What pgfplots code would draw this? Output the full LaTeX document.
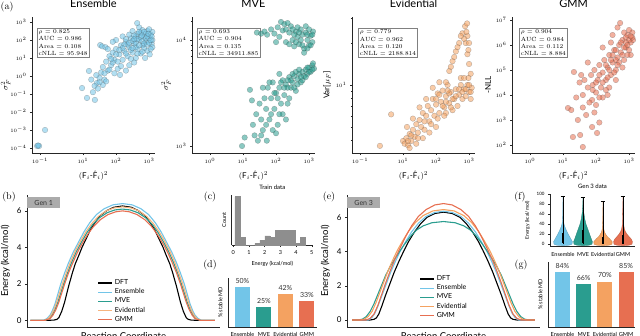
\documentclass[border=0pt]{standalone}
\usepackage{pgfplots}
\pgfplotsset{compat=1.18}
\usepackage{fontspec}
\setsansfont{Lato}
\usetikzlibrary{shadows}

\definecolor{cEns}{HTML}{72C5E8}
\definecolor{cMVE}{HTML}{2A9D8F}
\definecolor{cEvi}{HTML}{F4A261}
\definecolor{cEviL}{HTML}{F6B47E}
\definecolor{cGMM}{HTML}{E76F51}
\definecolor{hist}{HTML}{8E8E8E}
\definecolor{genbox}{HTML}{ABABAB}

\newcommand{\sz}[2]{\fontsize{#1}{#2}\selectfont}

\pgfplotsset{
  base/.style={scale only axis, anchor=south west, clip=false,
    axis x line*=bottom, axis y line*=left,
    axis line style={line width=0.6pt, black!85},
    tick align=outside, major tick length=2pt, minor tick length=1.2pt,
    every tick/.style={line width=0.4pt, black!85},
    tick label style={font=\sz{4.6}{5}},
    label style={font=\sffamily\sz{8}{9}}},
  top/.style={base, width=123pt, height=136pt, xmin=-0.545, xmax=3.18,
    title style={font=\sffamily\sz{11}{12}, at={(0.5,1)}, anchor=south, yshift=0pt},
    xlabel={$(\mathsf{F}_i\mbox{-}\hat{\mathsf{F}}_i)^2$},
    ylabel style={yshift=-2pt}},
  dots/.style={only marks, mark=*, mark size=2.8pt,
    mark options={fill=#1, fill opacity=0.55, draw=black!75, draw opacity=0.4, line width=0.3pt}},
  energy/.style={base, width=193pt, height=132pt, xmin=0, xmax=1,
    xtick=\empty, ytick={0,2,4,6},
    yticklabel style={font=\sffamily\sz{8}{9}},
    /pgf/number format/assume math mode=true,
    xlabel={Reaction Coordinate}, ylabel={Energy (kcal/mol)},
    label style={font=\sffamily\sz{9.5}{11}},
    legend style={draw=none, fill=none, anchor=north west,
      font=\sffamily\sz{7}{8}, row sep=-1.5pt},
    legend cell align=left,
    legend image code/.code={\draw[#1] (0pt,0pt) -- (14pt,0pt);},
    every axis plot/.append style={line width=1.1pt}},
  bars/.style={base, ybar, bar width=15pt, ymin=0,
    xtick={0,1,2,3}, xticklabels={Ensemble,MVE,Evidential,GMM},
    xticklabel style={font=\sffamily\sz{5.6}{6}},
    xtick style={draw=none}, ytick=\empty,
    /pgf/number format/assume math mode=true,
    ylabel={\% stable MD}, ylabel style={font=\sffamily\sz{5.5}{6}},
    nodes near coords={\pgfmathprintnumber{\pgfplotspointmeta}\%},
    every node near coord/.append style={font=\sffamily\sz{7}{8}, black!80}},
}
\tikzset{statbox/.style={draw=black!50, line width=0.4pt, fill=white,
    inner sep=1.6pt, align=left, font=\sz{6}{7.3}, anchor=north west,
    drop shadow={shadow xshift=0.7pt, shadow yshift=-0.7pt, fill=black!35}},
  plab/.style={font=\sz{10}{12}},
  gen/.style={fill=genbox, anchor=north west, minimum width=33pt,
    minimum height=11pt, inner sep=0pt, font=\sffamily\sz{7}{8}, text=black!80}}

\begin{document}
\begin{tikzpicture}
\path[use as bounding box] (0pt,0pt) rectangle (640pt,335pt);

% ---------- (a) Ensemble
\begin{axis}[top, at={(32pt,182pt)}, ymin=-4.28, ymax=3.28, title={Ensemble},
  xtick={-0.3,1,2,3}, xticklabels={$10^{-1}$,$10^{1}$,$10^{2}$,$10^{3}$},
  ytick={-4,...,3},
  yticklabels={$10^{-4}$,$10^{-3}$,$10^{-2}$,$10^{-1}$,$10^{0}$,$10^{1}$,$10^{2}$,$10^{3}$},
  ylabel={$\sigma^2_F$}, ylabel style={yshift=-5pt}]
\addplot[dots=cEns] coordinates {
(-0.39,-3.89) (-0.33,-3.89) (-0.36,-3.86) (-0.15,-3.0)
(0.97,-0.67) (1.12,-1.22) (1.36,-1.33) (1.18,0.28) (1.42,-0.39) (1.35,-0.55) (1.25,-0.2) (1.45,-0.7) (1.5,-0.1) (1.3,-0.9)
(1.55,0.2) (1.6,0.5) (1.65,-0.2) (1.7,0.8) (1.75,0.3) (1.8,1.1) (1.52,1.72) (1.58,1.65) (1.85,0.6) (1.9,1.3) (1.95,0.9)
(2.0,1.5) (2.05,0.4) (2.12,0.06) (2.1,1.2) (2.15,1.7) (2.2,0.9) (2.25,1.4) (2.3,1.9) (2.35,1.1) (2.4,1.6) (2.45,2.1)
(2.5,1.3) (2.55,1.8) (2.6,2.2) (2.64,2.94) (2.65,1.5) (2.7,2.0) (2.75,2.4) (2.8,1.7) (2.85,2.2) (2.9,1.9) (2.95,2.5)
(3.0,2.1) (3.05,2.3) (3.08,1.8) (2.95,1.4) (3.02,1.2) (2.88,1.0) (2.4,0.6) (2.3,0.3) (2.6,1.0) (2.2,2.2) (2.0,2.0)
(1.9,1.9) (2.5,2.5) (2.7,2.7) (2.8,2.55) (3.1,2.45) (3.1,2.0) (2.75,1.25) (2.85,1.55) (2.55,0.75) (2.45,0.95)
(2.15,0.55) (1.95,0.15) (1.7,-0.3) (1.6,-0.5) (2.65,2.35) (2.9,2.35) (3.0,2.6) (2.35,1.75) (2.6,1.6) (1.68,1.6) (1.75,1.5)
(2.25,1.75) (2.3,2.05) (2.4,1.85) (2.45,1.45) (2.5,1.95) (2.55,2.25) (2.6,1.85) (2.65,2.05) (2.7,1.7) (2.75,2.15)
(2.8,1.95) (2.85,1.8) (2.9,2.1) (2.95,1.75) (3.0,1.85) (3.05,2.0) (3.1,1.6) (3.05,1.5) (2.95,2.2) (2.85,2.45)
(2.7,2.45) (2.55,2.05) (2.4,2.3) (2.2,1.55) (2.1,1.45) (2.0,1.2) (1.9,0.75) (1.85,0.95) (2.05,0.8) (2.3,1.25)
(2.5,1.55) (2.65,1.25) (2.8,1.35) (3.08,2.2) (2.98,2.35) (2.78,2.25) (1.8,0.35) (1.65,0.15) (1.5,-0.35) (1.4,0.05)
};
\node[statbox] at (rel axis cs:0.04,0.92)
  {$\rho$ = 0.825\\AUC = 0.986\\Area = 0.108\\cNLL = 95.948};
\end{axis}

% ---------- MVE
\begin{axis}[top, at={(192pt,182pt)}, ymin=2.934, ymax=4.217, title={MVE},
  xtick={0,1,2,3}, xticklabels={$10^{0}$,$10^{1}$,$10^{2}$,$10^{3}$},
  ytick={3,4}, yticklabels={$10^{3}$,$10^{4}$},
  minor ytick={3.301,3.477,3.602,3.699,3.778,3.845,3.903,3.954,4.176},
  ylabel={$\sigma^2_F$}]
\addplot[dots=cMVE] coordinates {
(1.42,4.07) (1.55,4.06) (1.65,4.08) (1.73,4.05) (1.85,4.1) (1.95,4.06) (2.05,4.12) (2.1,4.03) (2.2,4.09) (2.25,4.15)
(2.3,3.98) (2.4,4.07) (2.45,4.13) (2.5,4.0) (2.55,3.94) (2.6,4.08) (2.65,4.03) (2.7,3.96) (2.75,4.1) (2.8,4.05)
(2.85,3.92) (2.9,4.07) (2.95,4.0) (3.0,3.95) (3.05,4.04) (3.1,3.98) (3.12,4.08) (2.35,4.16) (2.15,4.17) (2.85,3.88)
(3.0,4.1) (2.6,3.98) (2.4,3.96) (2.0,3.98)
(2.5,4.1) (2.65,4.12) (2.75,4.0) (2.9,4.13) (2.95,4.05) (3.05,3.95) (3.1,4.05) (2.8,3.95) (2.7,4.07) (2.55,4.05) (2.3,4.1) (2.95,3.92)
(0.97,3.0) (1.05,3.08) (1.21,3.53) (1.27,3.43) (1.3,3.2) (1.35,3.1) (1.4,3.3) (1.45,3.05) (1.5,3.4) (1.55,3.25)
(1.6,3.15) (1.65,3.45) (1.7,3.35) (1.72,3.05) (1.75,3.55) (1.8,3.25) (1.85,3.45) (1.9,3.6) (1.95,3.35) (2.0,3.5)
(2.05,3.2) (2.1,3.55) (2.15,3.4) (2.2,3.62) (2.25,3.48) (2.3,3.58) (2.35,3.4) (2.4,3.65) (2.45,3.55) (2.5,3.6)
(2.55,3.66) (2.6,3.52) (2.65,3.63) (2.7,3.68) (2.75,3.6) (2.8,3.7) (2.85,3.66) (2.9,3.72) (2.95,3.68) (3.0,3.74)
(3.05,3.7) (3.1,3.76) (3.15,3.73) (2.2,3.3) (2.0,3.12) (1.9,3.15) (2.4,3.45) (2.3,3.25) (1.6,3.55) (1.8,3.6) (2.1,3.68)
(2.5,3.68) (2.6,3.7) (2.7,3.72) (2.8,3.62) (2.9,3.65) (3.0,3.7) (3.1,3.72) (2.65,3.58) (2.55,3.55) (2.45,3.62)
(2.35,3.55) (2.25,3.55) (2.15,3.6) (2.05,3.45) (1.95,3.5) (1.85,3.3) (2.35,3.62) (2.75,3.65) (2.95,3.74) (3.12,3.78)
(1.7,3.2) (1.55,3.1) (2.1,3.3)
};
\node[statbox] at (rel axis cs:0.04,0.92)
  {$\rho$ = 0.693\\AUC = 0.904\\Area = 0.135\\cNLL = 34911.885};
\end{axis}

% ---------- Evidential
\begin{axis}[top, at={(352pt,182pt)}, ymin=0.514, ymax=1.486, title={Evidential},
  xtick={-0.3,1,2,3}, xticklabels={$10^{-1}$,$10^{1}$,$10^{2}$,$10^{3}$},
  ytick={1}, yticklabels={$10^{1}$},
  minor ytick={0.602,0.699,0.778,0.845,0.903,0.954,1.301,1.477},
  ylabel={Var[$\mu_F$]}]
\addplot[dots=cEvi] coordinates {
(0.3,0.565) (0.64,0.79)
(1.0,0.6) (1.05,0.58) (1.1,0.62) (1.15,0.57) (1.2,0.65) (1.25,0.6) (1.3,0.68) (1.12,0.7) (1.35,0.63) (1.4,0.72)
(1.45,0.66) (1.5,0.75) (1.55,0.7) (1.6,0.8) (1.65,0.68) (1.7,0.78) (1.75,0.85) (1.8,0.74) (1.85,0.82) (1.9,0.9)
(1.95,0.78) (2.0,0.86) (2.05,0.94) (2.1,0.8) (2.15,0.88) (2.2,0.96) (2.25,0.84) (2.3,0.92) (2.35,1.0) (2.4,0.87)
(2.45,0.95) (2.55,0.9) (2.6,0.97) (2.7,0.93) (2.75,1.0) (2.8,0.9) (2.85,0.97) (2.9,0.92) (2.95,1.0) (3.0,0.95)
(3.05,0.9) (3.08,0.98)
(2.3,1.02) (2.4,1.1) (2.5,1.17) (2.6,1.24) (2.7,1.3) (2.8,1.37) (2.88,1.42) (2.94,1.44) (2.9,1.3) (2.95,1.22)
(3.0,1.15) (3.0,1.3) (2.95,1.35) (3.05,1.08) (2.98,1.05) (2.85,1.33)
(1.2,0.55) (1.4,0.58) (1.6,0.62) (1.8,0.66) (2.0,0.7) (1.3,0.76) (1.5,0.84) (1.7,0.9) (1.9,0.98) (2.1,1.02)
(2.3,0.8) (2.5,0.82)
(2.0,0.9) (2.1,0.93) (2.2,0.85) (2.3,0.88) (2.4,0.94) (2.5,0.9) (2.6,0.92) (2.7,0.97) (2.8,0.95) (2.9,0.97)
(3.0,1.0) (3.05,0.95) (2.65,0.85) (2.45,0.84) (2.25,0.78) (2.05,0.76) (1.85,0.72) (1.65,0.74) (1.45,0.62) (1.25,0.64)
(1.15,0.6) (2.75,1.05) (2.85,1.05) (2.35,0.96) (2.98,1.25) (2.92,1.38) (2.75,1.35) (2.65,1.27) (2.55,1.2) (2.45,1.13)
};
\node[statbox] at (rel axis cs:0.05,0.92)
  {$\rho$ = 0.779\\AUC = 0.962\\Area = 0.120\\cNLL = 2188.814};
\end{axis}

% ---------- GMM
\begin{axis}[top, at={(512pt,182pt)}, ymin=1.68, ymax=7.12, title={GMM},
  xtick={0,1,2,3}, xticklabels={$10^{0}$,$10^{1}$,$10^{2}$,$10^{3}$},
  ytick={2,...,7},
  yticklabels={$10^{2}$,$10^{3}$,$10^{4}$,$10^{5}$,$10^{6}$,$10^{7}$},
  ylabel={-NLL}]
\addplot[dots=cGMM] coordinates {
(1.3,2.32) (1.6,1.92) (1.52,2.4) (1.88,2.72) (2.03,2.48) (1.15,3.48) (1.25,3.4) (1.33,4.92) (1.88,3.8) (1.45,3.0)
(1.7,3.2) (1.95,3.3) (2.1,2.9) (1.5,4.5) (1.6,4.0) (1.65,4.6) (1.75,4.3) (1.8,3.7) (1.85,4.8) (1.9,4.4)
(1.95,5.0) (2.0,4.1) (2.05,4.6) (2.1,5.2) (2.15,4.3) (2.2,4.9) (2.25,5.4) (2.3,4.6) (2.35,5.1) (2.4,5.6)
(2.45,4.8) (2.5,5.3) (2.55,5.8) (2.6,5.0) (2.65,5.5) (2.7,6.0) (2.73,6.88) (2.75,5.7) (2.8,6.2) (2.85,5.4)
(2.9,5.9) (2.95,6.4) (3.0,5.8) (3.05,6.1) (3.1,6.5) (3.12,6.2) (3.0,6.6) (2.9,6.3) (2.85,6.5) (2.2,3.9)
(2.4,4.3) (2.0,3.6) (1.75,5.3) (2.5,6.4) (2.65,6.7) (2.35,4.0) (2.6,4.6) (2.8,5.1) (3.05,5.6) (1.6,3.5)
(1.4,3.9) (1.55,4.8) (2.2,5.9) (2.45,6.1)
(2.3,5.2) (2.4,5.0) (2.5,5.6) (2.6,5.4) (2.7,5.3) (2.75,6.1) (2.85,5.9) (2.95,5.6) (3.0,6.2) (3.1,6.3)
(2.9,6.1) (2.8,5.6) (2.6,5.8) (2.45,5.4) (2.35,4.7) (2.2,4.5) (2.1,4.8) (2.0,4.5) (1.9,4.2) (2.1,3.9)
(2.3,4.2) (2.55,4.9) (2.65,5.2) (3.05,6.35) (2.95,6.0)
};
\node[statbox] at (rel axis cs:0.057,0.92)
  {$\rho$ = 0.904\\AUC = 0.984\\Area = 0.112\\cNLL = 8.884};
\end{axis}

% ---------- (b) Gen 1
\begin{axis}[energy, at={(27pt,8pt)}, ymin=-0.36, ymax=6.87,
  legend style={at={(0.35,0.39)}}]
\addplot[black] coordinates {(0.017,0)(0.10,0)(0.14,0.02)(0.155,0.06)(0.165,0.15)(0.18,0.5)(0.195,1.0)(0.215,1.85)(0.235,2.6)(0.25,3.1)(0.27,3.6)(0.285,4.0)(0.31,4.55)(0.33,5.0)(0.355,5.4)(0.38,5.75)(0.414,6.02)(0.45,6.2)(0.495,6.27)(0.54,6.2)(0.576,6.02)(0.61,5.75)(0.635,5.4)(0.66,5.0)(0.68,4.55)(0.705,4.0)(0.72,3.6)(0.74,3.1)(0.755,2.6)(0.775,1.85)(0.795,1.0)(0.81,0.5)(0.825,0.15)(0.835,0.06)(0.85,0.02)(0.89,0)(0.973,0)};
\addplot[cEns] coordinates {(0.017,0)(0.086,0)(0.105,0.12)(0.12,0.3)(0.13,0.5)(0.145,0.9)(0.16,1.45)(0.175,2.0)(0.195,2.6)(0.215,3.15)(0.24,3.75)(0.265,4.25)(0.295,4.85)(0.325,5.35)(0.36,5.8)(0.4,6.12)(0.445,6.33)(0.495,6.4)(0.545,6.33)(0.59,6.12)(0.63,5.8)(0.665,5.35)(0.695,4.85)(0.725,4.25)(0.75,3.75)(0.775,3.15)(0.795,2.6)(0.815,2.0)(0.83,1.45)(0.845,0.9)(0.86,0.5)(0.87,0.3)(0.885,0.12)(0.904,0)(0.973,0)};
\addplot[cMVE] coordinates {(0.017,0)(0.09,0)(0.115,0.1)(0.13,0.3)(0.145,0.6)(0.16,1.0)(0.175,1.5)(0.19,2.0)(0.21,2.6)(0.23,3.15)(0.255,3.75)(0.28,4.25)(0.31,4.8)(0.34,5.25)(0.375,5.62)(0.415,5.9)(0.455,6.05)(0.495,6.1)(0.535,6.05)(0.575,5.9)(0.615,5.62)(0.65,5.25)(0.68,4.8)(0.71,4.25)(0.735,3.75)(0.76,3.15)(0.78,2.6)(0.8,2.0)(0.815,1.5)(0.83,1.0)(0.845,0.6)(0.86,0.3)(0.875,0.1)(0.9,0)(0.973,0)};
\addplot[cEviL] coordinates {(0.017,0)(0.09,0)(0.11,0.1)(0.125,0.3)(0.14,0.6)(0.155,1.05)(0.17,1.55)(0.185,2.05)(0.205,2.65)(0.225,3.2)(0.25,3.8)(0.275,4.3)(0.305,4.85)(0.335,5.3)(0.37,5.7)(0.41,6.0)(0.45,6.16)(0.495,6.22)(0.54,6.16)(0.58,6.0)(0.62,5.7)(0.655,5.3)(0.685,4.85)(0.715,4.3)(0.74,3.8)(0.765,3.2)(0.785,2.65)(0.805,2.05)(0.82,1.55)(0.835,1.05)(0.85,0.6)(0.865,0.3)(0.88,0.1)(0.9,0)(0.973,0)};
\addplot[cGMM] coordinates {(0.017,0)(0.09,0)(0.12,0.1)(0.135,0.3)(0.15,0.6)(0.165,1.0)(0.18,1.5)(0.195,2.0)(0.215,2.6)(0.235,3.1)(0.26,3.7)(0.285,4.2)(0.315,4.72)(0.345,5.15)(0.38,5.52)(0.42,5.8)(0.46,5.95)(0.495,6.0)(0.53,5.95)(0.57,5.8)(0.61,5.52)(0.645,5.15)(0.675,4.72)(0.705,4.2)(0.73,3.7)(0.755,3.1)(0.775,2.6)(0.795,2.0)(0.81,1.5)(0.825,1.0)(0.84,0.6)(0.855,0.3)(0.87,0.1)(0.9,0)(0.973,0)};
\legend{DFT,Ensemble,MVE,Evidential,GMM}
\end{axis}
\node[gen] at (27pt,138pt) {Gen 1};

% ---------- (e) Gen 3
\begin{axis}[energy, at={(347pt,8pt)}, ymin=-0.41, ymax=7.3,
  legend style={at={(0.36,0.42)}}]
\addplot[black] coordinates {(0.026,0)(0.12,0)(0.14,0.04)(0.152,0.12)(0.165,0.35)(0.18,0.8)(0.2,1.45)(0.22,2.05)(0.245,2.8)(0.27,3.45)(0.295,4.05)(0.32,4.6)(0.35,5.15)(0.38,5.6)(0.415,6.0)(0.455,6.22)(0.5,6.3)(0.545,6.22)(0.585,6.0)(0.62,5.6)(0.65,5.15)(0.68,4.6)(0.705,4.05)(0.73,3.45)(0.755,2.8)(0.78,2.05)(0.8,1.45)(0.82,0.8)(0.835,0.35)(0.848,0.12)(0.86,0.04)(0.88,0)(0.974,0)};
\addplot[cEns] coordinates {(0.026,0)(0.11,0)(0.13,0.15)(0.145,0.4)(0.16,0.8)(0.18,1.4)(0.2,2.0)(0.225,2.75)(0.25,3.4)(0.275,4.0)(0.305,4.6)(0.335,5.15)(0.37,5.65)(0.41,6.05)(0.455,6.28)(0.5,6.35)(0.545,6.28)(0.59,6.05)(0.63,5.65)(0.665,5.15)(0.695,4.6)(0.725,4.0)(0.75,3.4)(0.775,2.75)(0.8,2.0)(0.82,1.4)(0.84,0.8)(0.855,0.4)(0.87,0.15)(0.89,0)(0.974,0)};
\addplot[cMVE] coordinates {(0.026,0)(0.06,0)(0.08,0.05)(0.1,0.2)(0.12,0.5)(0.14,0.95)(0.16,1.5)(0.18,2.05)(0.2,2.6)(0.225,3.15)(0.25,3.6)(0.275,4.05)(0.3,4.45)(0.33,4.9)(0.36,5.25)(0.395,5.5)(0.44,5.68)(0.5,5.75)(0.56,5.68)(0.605,5.5)(0.64,5.25)(0.67,4.9)(0.7,4.45)(0.725,4.05)(0.75,3.6)(0.775,3.15)(0.8,2.6)(0.82,2.05)(0.84,1.5)(0.86,0.95)(0.88,0.5)(0.9,0.2)(0.92,0.05)(0.94,0)(0.974,0)};
\addplot[cEvi] coordinates {(0.026,0)(0.07,0)(0.09,0.05)(0.11,0.2)(0.13,0.5)(0.15,1.0)(0.17,1.6)(0.19,2.2)(0.21,2.8)(0.235,3.45)(0.26,4.05)(0.29,4.65)(0.32,5.2)(0.355,5.7)(0.395,6.1)(0.445,6.37)(0.5,6.45)(0.555,6.37)(0.605,6.1)(0.645,5.7)(0.68,5.2)(0.71,4.65)(0.74,4.05)(0.765,3.45)(0.79,2.8)(0.81,2.2)(0.83,1.6)(0.85,1.0)(0.87,0.5)(0.89,0.2)(0.91,0.05)(0.93,0)(0.974,0)};
\addplot[cGMM] coordinates {(0.026,0)(0.1,0)(0.12,0.1)(0.14,0.35)(0.16,0.85)(0.18,1.5)(0.2,2.15)(0.225,2.9)(0.25,3.6)(0.275,4.2)(0.305,4.9)(0.335,5.5)(0.37,6.05)(0.41,6.45)(0.455,6.72)(0.5,6.8)(0.545,6.72)(0.59,6.45)(0.63,6.05)(0.665,5.5)(0.695,4.9)(0.725,4.2)(0.75,3.6)(0.775,2.9)(0.8,2.15)(0.82,1.5)(0.84,0.85)(0.86,0.35)(0.88,0.1)(0.9,0)(0.974,0)};
\legend{DFT,Ensemble,MVE,Evidential,GMM}
\end{axis}
\node[gen] at (347pt,138pt) {Gen 3};

% ---------- (c) histogram
\begin{axis}[base, at={(231.7pt,90pt)}, width=81.3pt, height=50pt,
  xmin=-0.1, xmax=5.08, ymin=0, ymax=60, ytick=\empty, xtick={0,...,5},
  xticklabel style={font=\sffamily\sz{5.5}{6}},
  /pgf/number format/assume math mode=true,
  title={Train data}, title style={font=\sffamily\sz{6}{7}, yshift=-4pt},
  xlabel={Energy (kcal/mol)}, ylabel={Count},
  label style={font=\sffamily\sz{5.5}{6}}]
\addplot[ybar interval, fill=hist, draw=hist] coordinates {
(0.1,58)(0.42,9)(0.74,0)(1.06,0)(1.38,2)(1.70,6)(2.02,11)(2.34,9)(2.66,18)(2.98,18)(3.30,18)(3.62,18)(3.94,2)(4.26,9)(4.58,0)};
\end{axis}

% ---------- (d) stable MD gen 1
\begin{axis}[bars, at={(228pt,8pt)}, width=89pt, height=49pt,
  xmin=-0.67, xmax=3.47, ymax=62]
\addplot[fill=cEns, draw=none, bar shift=0pt] coordinates {(0,50)};
\addplot[fill=cMVE, draw=none, bar shift=0pt] coordinates {(1,25)};
\addplot[fill=cEvi, draw=none, bar shift=0pt] coordinates {(2,42)};
\addplot[fill=cGMM, draw=none, bar shift=0pt] coordinates {(3,33)};
\end{axis}

% ---------- (f) violins
\begin{axis}[base, at={(550pt,88.3pt)}, width=85pt, height=52.7pt,
  xmin=-0.65, xmax=3.6, ymin=-5, ymax=100,
  ytick={0,20,...,100}, yticklabel style={font=\sffamily\sz{4.5}{5}},
  /pgf/number format/assume math mode=true,
  xtick={0,1,2,3}, xticklabels={Ensemble,MVE,Evidential,GMM},
  xticklabel style={font=\sffamily\sz{5.5}{6}}, xtick style={draw=none},
  title={Gen 3 data}, title style={font=\sffamily\sz{6}{7}, yshift=-4pt},
  ylabel={Energy (kcal/mol)}, label style={font=\sffamily\sz{5}{6}}]
\addplot[fill=cEns, draw=cEns!80!black, line width=0.3pt] coordinates {
(0,-3)(0.3,-2)(0.45,0)(0.47,5)(0.4,10)(0.33,15)(0.26,20)(0.2,25)(0.14,30)(0.09,35)(0.05,40)(0.02,50)(0.012,70)(0,96)
(-0.012,70)(-0.02,50)(-0.05,40)(-0.09,35)(-0.14,30)(-0.2,25)(-0.26,20)(-0.33,15)(-0.4,10)(-0.47,5)(-0.45,0)(-0.3,-2)} -- cycle;
\addplot[fill=cMVE, draw=cMVE!80!black, line width=0.3pt] coordinates {
(1,-3)(1.3,-2)(1.45,0)(1.47,5)(1.42,10)(1.33,20)(1.24,30)(1.15,40)(1.09,50)(1.05,60)(1.02,70)(1,93)
(0.98,70)(0.95,60)(0.91,50)(0.85,40)(0.76,30)(0.67,20)(0.58,10)(0.53,5)(0.55,0)(0.7,-2)} -- cycle;
\addplot[fill=cEvi, draw=cEvi!80!black, line width=0.3pt] coordinates {
(2,-3)(2.3,-2)(2.45,0)(2.46,5)(2.35,10)(2.22,15)(2.13,20)(2.07,25)(2.04,30)(2.02,40)(2,85)
(1.98,40)(1.96,30)(1.93,25)(1.87,20)(1.78,15)(1.65,10)(1.54,5)(1.55,0)(1.7,-2)} -- cycle;
\addplot[fill=cGMM, draw=cGMM!80!black, line width=0.3pt] coordinates {
(3,-3)(3.3,-2)(3.45,0)(3.47,5)(3.42,10)(3.3,15)(3.2,20)(3.12,25)(3.07,30)(3.03,40)(3,95)
(2.97,40)(2.93,30)(2.88,25)(2.8,20)(2.7,15)(2.58,10)(2.53,5)(2.55,0)(2.7,-2)} -- cycle;
\addplot[black, line width=0.5pt] coordinates {(0,0)(0,96)};
\addplot[black, line width=0.5pt] coordinates {(1,0)(1,93)};
\addplot[black, line width=0.5pt] coordinates {(2,0)(2,85)};
\addplot[black, line width=0.5pt] coordinates {(3,0)(3,95)};
\addplot[black, line width=0.5pt] coordinates {(-0.12,96)(0.12,96)};
\addplot[black, line width=0.5pt] coordinates {(0.88,93)(1.12,93)};
\addplot[black, line width=0.5pt] coordinates {(1.88,85)(2.12,85)};
\addplot[black, line width=0.5pt] coordinates {(2.88,95)(3.12,95)};
\addplot[black, line width=1.4pt] coordinates {(0,2)(0,22)};
\addplot[black, line width=1.4pt] coordinates {(1,3)(1,28)};
\addplot[black, line width=1.4pt] coordinates {(2,1)(2,14)};
\addplot[black, line width=1.4pt] coordinates {(3,1)(3,18)};
\end{axis}

% ---------- (g) stable MD gen 3
\begin{axis}[bars, at={(548pt,8pt)}, width=87pt, height=65pt,
  xmin=-0.68, xmax=3.42, ymax=100]
\addplot[fill=cEns, draw=none, bar shift=0pt] coordinates {(0,84)};
\addplot[fill=cMVE, draw=none, bar shift=0pt] coordinates {(1,66)};
\addplot[fill=cEvi, draw=none, bar shift=0pt] coordinates {(2,70)};
\addplot[fill=cGMM, draw=none, bar shift=0pt] coordinates {(3,85)};
\end{axis}

% ---------- panel letters
\node[plab] at (7pt,328pt) {(a)};
\node[plab] at (9pt,138pt) {(b)};
\node[plab] at (210pt,138pt) {(c)};
\node[plab] at (210pt,70pt) {(d)};
\node[plab] at (329pt,138pt) {(e)};
\node[plab] at (520pt,138pt) {(f)};
\node[plab] at (521pt,70pt) {(g)};
\end{tikzpicture}
\end{document}
